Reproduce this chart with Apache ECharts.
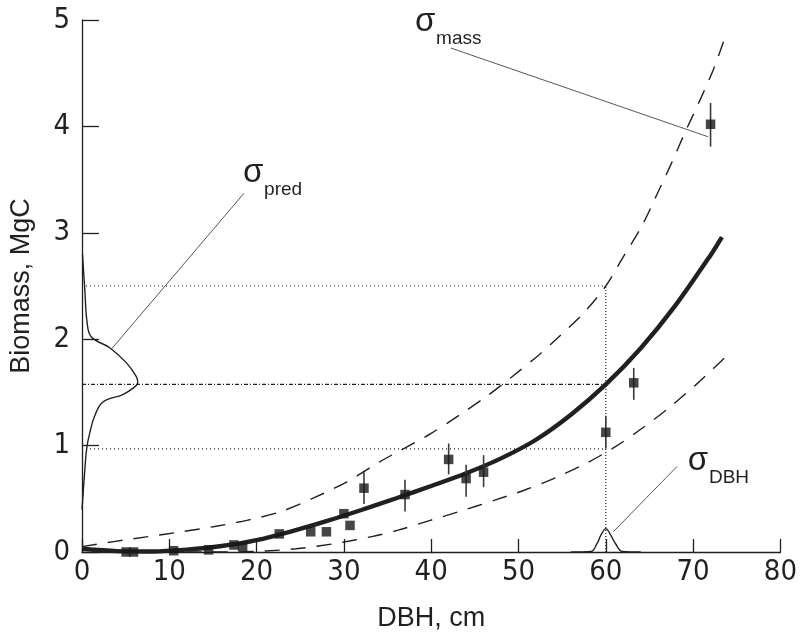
<!DOCTYPE html>
<html><head><meta charset="utf-8">
<script src="https://cdn.jsdelivr.net/npm/echarts@6/dist/echarts.min.js"></script>
<style>html,body{margin:0;padding:0;background:#fff}#c{width:800px;height:637px}</style>
</head><body><div id="c"></div>
<script>
// ---- data ----
const ptsX = [5.05, 5.9, 10.5, 14.5, 17.4, 18.4, 22.6, 26.2, 28.0, 30.0, 30.7, 32.3, 37.0, 42.0, 44.0, 46.0, 60.0, 63.2, 72.0];
const ptsY = [0.0, 0.0, 0.012, 0.02, 0.066, 0.05, 0.17, 0.19, 0.19, 0.36, 0.25, 0.60, 0.54, 0.87, 0.69, 0.75, 1.125, 1.59, 4.02];

const errX  = [32.3, 37.0, 42.0, 44.0, 46.0, 60.0, 63.2, 72.0];
const errLo = [0.45, 0.38, 0.73, 0.52, 0.61, 0.97, 1.43, 3.81];
const errHi = [0.75, 0.68, 1.02, 0.82, 0.91, 1.28, 1.73, 4.22];

const fitX = [0, 4, 8, 12, 16, 20, 24, 28, 32, 36, 40, 44, 48, 52, 56, 60, 64, 68, 72, 73.3];
const fitY = [0.03, 0.008, 0.005, 0.022, 0.056, 0.112, 0.195, 0.29, 0.395, 0.505, 0.62, 0.74, 0.88, 1.055, 1.29, 1.575, 1.915, 2.32, 2.79, 2.96];

const upX = [0, 3.8, 7.6, 11.4, 15.2, 19, 22.8, 26.6, 30.35, 34.15, 36.6, 39.9, 43.1, 46.3, 49.3, 52.3, 54.6, 57.5, 60, 61.9, 64.1, 65.8, 67.5, 69, 70.75, 72.3, 73.8];
const upY = [0.05, 0.10, 0.145, 0.19, 0.24, 0.30, 0.38, 0.51, 0.66, 0.85, 0.96, 1.11, 1.28, 1.46, 1.65, 1.85, 2.02, 2.25, 2.5, 2.76, 3.06, 3.35, 3.65, 3.93, 4.24, 4.53, 4.87];

const lowX = [12, 17, 21, 24.5, 29, 33.2, 36.2, 39.8, 43.4, 47.2, 50.8, 54.3, 57.8, 61.1, 64.2, 67.3, 70.5, 73.8];
const lowY = [0, 0, 0.01, 0.03, 0.08, 0.145, 0.205, 0.295, 0.385, 0.485, 0.585, 0.70, 0.835, 0.99, 1.165, 1.36, 1.585, 1.84];

const predX = [0.0, 0.32, 0.55, 0.89, 1.46, 2.40, 4.68, 6.01, 6.39, 6.21, 5.07, 3.17, 1.08, 0.58, 0.32, 0.05];
const predY = [0.40, 0.77, 0.98, 1.12, 1.28, 1.41, 1.48, 1.55, 1.59, 1.65, 1.78, 1.92, 2.02, 2.16, 2.47, 2.80];

const dbhX = [56, 58.3, 59.0, 59.45, 60, 60.55, 61.1, 61.9, 64];
const dbhY = [0, 0.005, 0.08, 0.16, 0.22, 0.16, 0.08, 0.005, 0];

const refX = 60, refHigh = 2.5, refMid = 1.575, refLow = 0.97;

const labelSym = ['σ', 'σ', 'σ'];
const labelSub = ['mass', 'pred', 'DBH'];
const labelAt  = [[39.3, 4.98], [19.6, 3.56], [70.55, 0.854]];
const leaderFrom = [[42.27, 4.736], [18.54, 3.37], [68.17, 0.805]];
const leaderTo   = [[71.70, 3.903], [3.36, 1.906], [60.88, 0.192]];

const xMin = 0, xMax = 80, xStep = 10;
const yMin = 0, yMax = 5, yStep = 1;
const xName = 'DBH, cm', yName = 'Biomass, MgC';
// --------------------------------------

const ink = '#231f20';
const font = '"Liberation Sans", Arial, sans-serif';
const tickFont = '"Liberation Sans Narrow", "DejaVu Sans Condensed", "Liberation Sans", sans-serif';
const zip = (a, b) => a.map((v, i) => [v, b[i]]);

const chart = echarts.init(document.getElementById('c'), null, {renderer: 'canvas'});

const axisCommon = {
  type: 'value',
  nameLocation: 'middle',
  axisLine: {show: true, onZero: false, lineStyle: {color: ink, width: 1.3}},
  splitLine: {show: false},
  nameTextStyle: {fontSize: 27, color: ink, fontFamily: font}
};

const series = [
  {type: 'line', data: [[0, refHigh], [refX, refHigh]], symbol: 'none', silent: true, z: 1,
    lineStyle: {color: ink, width: 1.2, type: [1, 3]}},
  {type: 'line', data: [[0, refMid], [refX, refMid]], symbol: 'none', silent: true, z: 1,
    lineStyle: {color: ink, width: 1.2, type: [4, 2, 1, 2]}},
  {type: 'line', data: [[0, refLow], [refX, refLow]], symbol: 'none', silent: true, z: 1,
    lineStyle: {color: ink, width: 1.2, type: [1, 3]}},
  {type: 'line', data: [[refX, 0], [refX, refHigh]], symbol: 'none', silent: true, z: 1,
    lineStyle: {color: ink, width: 1.2, type: [1, 2]}},
  {type: 'line', data: zip(upX, upY), symbol: 'none', smooth: 0.3, z: 2,
    lineStyle: {color: ink, width: 1.4, type: [15, 11]}},
  {type: 'line', data: zip(lowX, lowY), symbol: 'none', smooth: 0.3, z: 2,
    lineStyle: {color: ink, width: 1.4, type: [15, 11]}},
  {type: 'line', data: zip(fitX, fitY), symbol: 'none', smooth: 0.3, z: 3,
    lineStyle: {color: ink, width: 4.4}},
  {type: 'line', data: zip(predX, predY), symbol: 'none', smooth: 0.4, z: 3,
    lineStyle: {color: ink, width: 1.4}},
  {type: 'line', data: zip(dbhX, dbhY), symbol: 'none', smooth: 0.4, z: 3,
    lineStyle: {color: ink, width: 1.4}}
];
leaderFrom.forEach((p, i) => {
  series.push({type: 'line', data: [p, leaderTo[i]], symbol: 'none', z: 3,
    lineStyle: {color: '#555', width: 1}});
});
series.push({
  type: 'custom', z: 4,
  data: errX.map((x, i) => [x, errLo[i], errHi[i]]),
  renderItem: function (params, api) {
    const a = api.coord([api.value(0), api.value(1)]);
    const b = api.coord([api.value(0), api.value(2)]);
    return {type: 'line', shape: {x1: a[0], y1: a[1], x2: b[0], y2: b[1]},
      style: {stroke: '#3a3a3a', lineWidth: 1.6}};
  }
});
series.push({type: 'scatter', data: zip(ptsX, ptsY), symbol: 'rect', symbolSize: 9.5, z: 5,
  itemStyle: {color: '#1a1718'}});

chart.setOption({
  animation: false,
  grid: {left: 82, right: 15.5, top: 20, bottom: 84.7},
  xAxis: Object.assign({}, axisCommon, {
    min: xMin, max: xMax, interval: xStep, name: xName, nameGap: 53,
    axisTick: {show: true, inside: true, length: 13, lineStyle: {color: ink, width: 1.3}},
    axisLabel: {fontSize: 29, color: ink, fontFamily: tickFont, margin: 6}
  }),
  yAxis: Object.assign({}, axisCommon, {
    min: yMin, max: yMax, interval: yStep, name: yName, nameGap: 47,
    axisTick: {show: true, inside: true, length: 17, lineStyle: {color: ink, width: 1.3}},
    axisLabel: {fontSize: 29, color: ink, fontFamily: tickFont, margin: 12}
  }),
  series: series
});

const graphics = [];
labelAt.forEach((p, i) => {
  const px = chart.convertToPixel({gridIndex: 0}, p);
  graphics.push({type: 'text', x: px[0], y: px[1], silent: true,
    style: {text: labelSym[i], fontSize: 33, fontFamily: font, fill: ink, align: 'center', verticalAlign: 'middle'}});
  graphics.push({type: 'text', x: px[0] + 11, y: px[1] + 17, silent: true,
    style: {text: labelSub[i], fontSize: 19, fontFamily: font, fill: ink, align: 'left', verticalAlign: 'middle'}});
});
chart.setOption({graphic: graphics});
</script>
</body></html>
